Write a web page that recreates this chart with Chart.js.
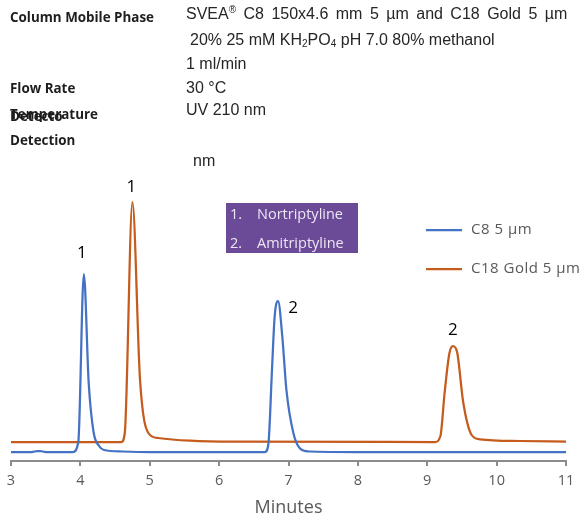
<!DOCTYPE html>
<html>
<head>
<meta charset="utf-8">
<script src="https://cdn.jsdelivr.net/npm/chart.js@4"></script>
<style>
  body { margin: 0; background: #fff; }
  #page { position: relative; width: 584px; height: 519px; overflow: hidden; }
  #chartBox { position: absolute; left: 0; top: 0; width: 584px; height: 519px; }
  .lbl { position: absolute; left: 10px; font: bold 13.4px "Open Sans"; color: #1e1e1e; white-space: nowrap; line-height: 18px; }
  .val { position: absolute; font: 16px "Liberation Sans"; color: #262626; white-space: nowrap; line-height: 18px; }
  .val sub { font-size: 10px; vertical-align: -2px; line-height: 0; }
  .val sup { font-size: 10px; vertical-align: 6px; line-height: 0; }
  #compounds { position: absolute; left: 226px; top: 203px; width: 132px; height: 50px; background: #6b4a97; color: #ece6f4; font: 14.5px "Open Sans"; }
  #compounds div { position: absolute; white-space: nowrap; line-height: 18px; }
</style>
</head>
<body>
<div id="page">
  <div id="chartBox"><canvas id="chromChart"></canvas></div>

  <div class="lbl" style="top:8px">Column Mobile Phase</div>
  <div class="lbl" style="top:79px">Flow Rate</div>
  <div class="lbl" style="top:105px">Temperature</div>
  <div class="lbl" style="top:107px">Detecto</div>
  <div class="lbl" style="top:131px">Detection</div>

  <div class="val" style="left:186px;top:5px;word-spacing:3px">SVEA<sup>®</sup> C8 150x4.6 mm 5 µm and C18 Gold 5 µm</div>
  <div class="val" style="left:190px;top:31px">20% 25 mM KH<sub>2</sub>PO<sub>4</sub> pH 7.0 80% methanol</div>
  <div class="val" style="left:186px;top:55px">1 ml/min</div>
  <div class="val" style="left:186px;top:79px">30 °C</div>
  <div class="val" style="left:186px;top:101px">UV 210 nm</div>
  <div class="val" style="left:193px;top:152px">nm</div>

  <div id="compounds"></div>
</div>

<script>
// C8 5 µm trace (blue)
const c8Times  = [3.0, 3.3, 3.38, 3.42, 3.5, 3.89, 3.97, 4.05, 4.12, 4.19, 4.27, 4.34, 4.6, 5.0,
                  6.66, 6.71, 6.76, 6.80, 6.85, 6.91, 6.97, 7.07, 7.16, 7.29, 8.0, 11.0];
const c8Signal = [9, 9, 10, 10, 9, 9, 19, 187, 78, 29, 15, 11, 9.5, 9,
                  9, 17, 88, 144, 160, 125, 71, 28, 13, 9.5, 9, 9];

// C18 Gold 5 µm trace (orange)
const c18Times  = [3.0, 4.59, 4.64, 4.75, 4.86, 4.98, 5.12, 5.58, 6.2,
                   9.11, 9.19, 9.25, 9.32, 9.37, 9.43, 9.52, 9.64, 9.76, 10.33, 11.0];
const c18Signal = [19, 19, 28, 259, 81, 28, 23, 20.3, 19.3,
                   19, 25, 68, 108, 115, 109, 58, 26, 21.7, 20, 19.3];

const seriesNames = ["C8 5 µm", "C18 Gold 5 µm"];
const seriesColors = ["#4472c4", "#c55b1c"];
const xTicks = [3, 4, 5, 6, 7, 8, 9, 10, 11];

// peak numbering and retention times per column
const peakNames = ["1", "2"];
const c8PeakTimes = [4.05, 6.85];
const c18PeakTimes = [4.75, 9.37];
const compounds = ["Nortriptyline", "Amitriptyline"];

// compound key box
const box = document.getElementById("compounds");
compounds.forEach((name, i) => {
  const num = document.createElement("div");
  num.textContent = (i + 1) + ".";
  num.style.left = "4px";
  num.style.top = (2 + i * 29) + "px";
  const txt = document.createElement("div");
  txt.textContent = name;
  txt.style.left = "31px";
  txt.style.top = (2 + i * 29) + "px";
  box.appendChild(num);
  box.appendChild(txt);
});

function toPoints(times, values) {
  return times.map((t, i) => ({ x: t, y: values[i] }));
}

// writes the peak numbers next to each peak top
const peakLabels = {
  id: "peakLabels",
  afterDatasetsDraw(chart) {
    const ctx = chart.ctx;
    const offsets = [[[-2, -21], [15, 7]], [[-1, -15], [0, -16]]];
    const peakTimes = [c8PeakTimes, c18PeakTimes];
    ctx.save();
    ctx.font = '17px "Open Sans"';
    ctx.fillStyle = "#000";
    ctx.textAlign = "center";
    ctx.textBaseline = "middle";
    peakTimes.forEach((times, d) => {
      const meta = chart.getDatasetMeta(d);
      const data = chart.data.datasets[d].data;
      times.forEach((t, k) => {
        const idx = data.findIndex(p => p.x === t);
        const pt = meta.data[idx];
        ctx.fillText(peakNames[k], pt.x + offsets[d][k][0], pt.y + offsets[d][k][1]);
      });
    });
    ctx.restore();
  }
};

// legend sitting inside the plot, right side
const insideLegend = {
  id: "insideLegend",
  afterDraw(chart) {
    const ctx = chart.ctx;
    ctx.save();
    ctx.font = '15px "Open Sans"';
    ctx.textBaseline = "middle";
    ctx.letterSpacing = "0.5px";
    chart.data.datasets.forEach((ds, i) => {
      const y = 230 + i * 39;
      ctx.strokeStyle = ds.borderColor;
      ctx.lineWidth = 2.25;
      ctx.beginPath();
      ctx.moveTo(426, y);
      ctx.lineTo(462, y);
      ctx.stroke();
      ctx.fillStyle = "#595959";
      ctx.fillText(ds.label, 471, y);
    });
    ctx.restore();
  }
};

new Chart(document.getElementById("chromChart"), {
  type: "line",
  data: {
    datasets: [
      { label: seriesNames[0], data: toPoints(c8Times, c8Signal), borderColor: seriesColors[0] },
      { label: seriesNames[1], data: toPoints(c18Times, c18Signal), borderColor: seriesColors[1] }
    ]
  },
  options: {
    responsive: true,
    maintainAspectRatio: false,
    animation: false,
    layout: { padding: { top: 171, left: 11, right: 18, bottom: 0 } },
    elements: {
      point: { radius: 0 },
      line: { borderWidth: 2.25, cubicInterpolationMode: "monotone" }
    },
    plugins: {
      legend: { display: false },
      tooltip: { enabled: false }
    },
    scales: {
      x: {
        type: "linear",
        min: 3,
        max: 11,
        afterBuildTicks: scale => { scale.ticks = xTicks.map(v => ({ value: v })); },
        afterFit: scale => { scale.height = 58; },
        grid: { drawOnChartArea: false, tickLength: 5, color: "#8c8c8c", lineWidth: 2 },
        border: { display: true, color: "#8c8c8c", width: 2 },
        ticks: { color: "#595959", font: { family: "Open Sans", size: 14.5 }, padding: 6, maxRotation: 0 },
        title: { display: true, text: "Minutes", color: "#595959", font: { family: "Open Sans", size: 18 }, padding: 0 }
      },
      y: { display: false, min: 0, max: 290 }
    }
  },
  plugins: [peakLabels, insideLegend]
});
</script>
</body>
</html>
